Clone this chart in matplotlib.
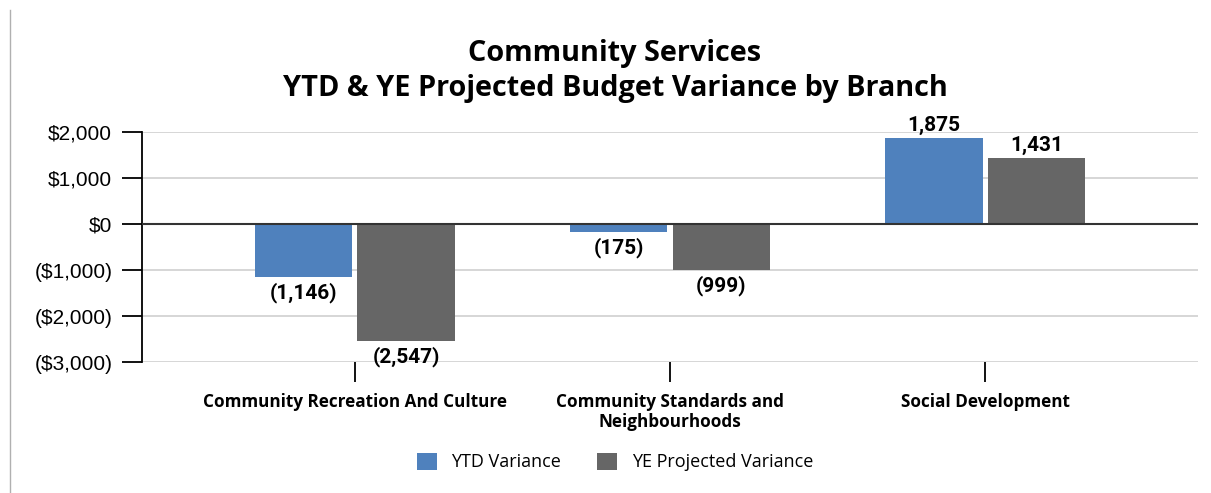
"""Community Services - YTD & YE projected budget variance by branch."""
import matplotlib.pyplot as plt
import matplotlib.patches as mpatches
from matplotlib.lines import Line2D
from matplotlib.ticker import FuncFormatter
import numpy as np

branches = ['Community Recreation And Culture',
            'Community Standards and\nNeighbourhoods',
            'Social Development']
ytd_variance = [-1146, -175, 1875]
ye_variance = [-2547, -999, 1431]
series_names = ['YTD Variance', 'YE Projected Variance']
colors = ['#4F81BD', '#666666']


def money(v, pos=None):
    if v < 0:
        return '(${:,.0f})'.format(-v)
    return '${:,.0f}'.format(v)


def num_label(v):
    if v < 0:
        return '({:,.0f})'.format(-v)
    return '{:,.0f}'.format(v)


fig = plt.figure(figsize=(12.11, 4.93), dpi=100)
ax = fig.add_axes([142 / 1211, 1 - 362 / 493, (1198 - 142) / 1211, 230 / 493])

x = np.arange(len(branches))
width = 0.31
offset = 0.163
for vals, off, col in [(ytd_variance, -offset, colors[0]), (ye_variance, offset, colors[1])]:
    bars = ax.bar(x + off, vals, width, color=col, zorder=3)
    for b, v in zip(bars, vals):
        if v >= 0:
            ax.annotate(num_label(v), (b.get_x() + b.get_width() / 2, v), xytext=(0, 2),
                        textcoords='offset points', ha='center', va='bottom',
                        fontsize=15, fontweight='bold', family='Roboto', zorder=4)
        else:
            ax.annotate(num_label(v), (b.get_x() + b.get_width() / 2, v), xytext=(0, -4),
                        textcoords='offset points', ha='center', va='top',
                        fontsize=15, fontweight='bold', family='Roboto', zorder=4)

ax.set_ylim(-3000, 2000)
ax.set_xlim(-0.675, 2.675)
ax.set_yticks(range(-3000, 2001, 1000))
ax.yaxis.set_major_formatter(FuncFormatter(money))
ax.grid(axis='y', color='#d0d0d0', linewidth=1.2, zorder=0)
ax.axhline(0, color='#333333', linewidth=1.5, zorder=4)

for s in ['top', 'right', 'bottom']:
    ax.spines[s].set_visible(False)
ax.spines['left'].set_linewidth(1.3)

ax.tick_params(axis='y', length=14.4, width=1.3, labelsize=15, pad=7)
for t in ax.get_yticklabels():
    t.set_family('Liberation Sans')
ax.set_xticks(x)
ax.set_xticklabels(branches, fontsize=12.3, fontweight='bold', family='Open Sans',
                   linespacing=1.1, va='top')
ax.tick_params(axis='x', length=14.4, width=1.3, pad=8)

fig.text(615 / 1211, 1 - 71 / 493, 'Community Services\nYTD & YE Projected Budget Variance by Branch',
         ha='center', va='center', fontsize=20.8, fontweight='bold', family='Open Sans',
         linespacing=1.3)

handles = [mpatches.Rectangle((0, 0), 1, 1, facecolor=c) for c in colors]
fig.legend(handles, series_names, loc='center', bbox_to_anchor=(615 / 1211, 1 - 462 / 493),
           ncol=2, frameon=False, prop={'family': 'Open Sans', 'size': 13},
           handlelength=1.1, handleheight=1.1, columnspacing=2.0, handletextpad=0.8)

# thin page border on the left
fig.add_artist(Line2D([10 / 1211, 10 / 1211], [0, 1 - 10 / 493], color='#b0b0b0', linewidth=1,
                      transform=fig.transFigure))

fig.savefig('out.png', dpi=100)
